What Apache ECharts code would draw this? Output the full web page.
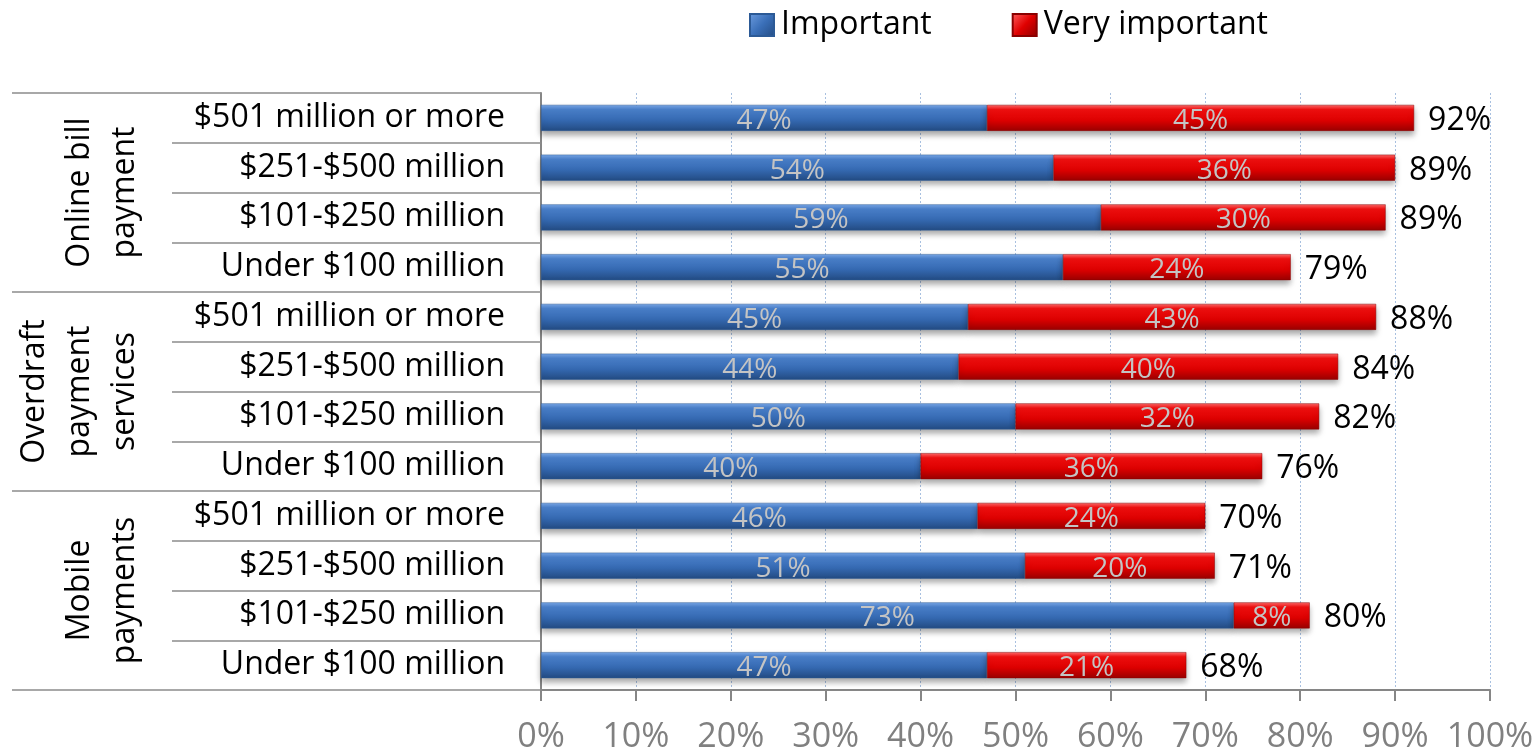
<!DOCTYPE html>
<html><head><meta charset="utf-8">
<script src="https://cdn.jsdelivr.net/npm/echarts@6/dist/echarts.min.js"></script>
<style>html,body{margin:0;padding:0;background:#fff}#c{width:1538px;height:755px}</style>
</head><body><div id="c"></div>
<script>
const groups = ['Online bill\npayment', 'Overdraft\npayment\nservices', 'Mobile\npayments'];
const categories = [
  '$501 million or more', '$251-$500 million', '$101-$250 million', 'Under $100 million',
  '$501 million or more', '$251-$500 million', '$101-$250 million', 'Under $100 million',
  '$501 million or more', '$251-$500 million', '$101-$250 million', 'Under $100 million'
];
const important     = [47, 54, 59, 55, 45, 44, 50, 40, 46, 51, 73, 47];
const veryImportant = [45, 36, 30, 24, 43, 40, 32, 36, 24, 20, 8, 21];
const totals        = [92, 89, 89, 79, 88, 84, 82, 76, 70, 71, 80, 68];
const xTicks = [0, 10, 20, 30, 40, 50, 60, 70, 80, 90, 100];

const FONT = 'Open Sans';
const chart = echarts.init(document.getElementById('c'), null, {renderer: 'canvas'});

const blueGrad = new echarts.graphic.LinearGradient(0, 0, 0, 1, [
  {offset: 0, color: '#7aa8e8'}, {offset: 0.18, color: '#4a80cb'},
  {offset: 0.6, color: '#3468b0'}, {offset: 1, color: '#234b82'}]);
const redGrad = new echarts.graphic.LinearGradient(0, 0, 0, 1, [
  {offset: 0, color: '#ff6a6a'}, {offset: 0.18, color: '#f01010'},
  {offset: 0.6, color: '#dc0000'}, {offset: 1, color: '#9a0000'}]);
const blueIcon = new echarts.graphic.LinearGradient(0, 0, 1, 1, [
  {offset: 0, color: '#6d9de0'}, {offset: 0.5, color: '#3a6fb8'}, {offset: 1, color: '#234b82'}]);
const redIcon = new echarts.graphic.LinearGradient(0, 0, 1, 1, [
  {offset: 0, color: '#ff6060'}, {offset: 0.5, color: '#e00000'}, {offset: 1, color: '#8a0000'}]);

chart.setOption({
  animation: false,
  textStyle: {fontFamily: FONT},
  legend: {
    top: 4, left: 744,
    data: [{name: 'Important', itemStyle: {color: blueIcon}}, {name: 'Very important', itemStyle: {color: redIcon}}],
    itemWidth: 24, itemHeight: 22, itemGap: 80,
    icon: 'rect',
    textStyle: {fontSize: 32, color: '#000', fontFamily: FONT, padding: [0, 0, 0, 2]}
  },
  grid: {left: 541, right: 48, top: 93, bottom: 65, containLabel: false},
  xAxis: {
    type: 'value', min: 0, max: 100, interval: 10,
    axisLine: {show: true, lineStyle: {color: '#868686', width: 2}},
    axisTick: {show: true, length: 11, lineStyle: {color: '#868686', width: 2}},
    axisLabel: {
      margin: 30, fontSize: 34, color: '#808080', fontFamily: FONT,
      formatter: v => xTicks.includes(v) ? v + '%' : ''
    },
    splitLine: {show: true, lineStyle: {color: '#a8c0e0', type: [2, 2], width: 1}}
  },
  yAxis: [
    {
      type: 'category', data: categories, inverse: true,
      axisLine: {show: true, lineStyle: {color: '#868686', width: 2}},
      axisTick: {show: true, length: 369, lineStyle: {color: '#8c8c8c', width: 1.5}},
      axisLabel: {margin: 36, fontSize: 32, color: '#000', fontFamily: FONT},
      splitLine: {show: false}
    },
    {
      type: 'category', data: groups, inverse: true, position: 'left',
      axisLine: {show: false},
      axisTick: {show: true, length: 529, lineStyle: {color: '#8c8c8c', width: 1.5}},
      axisLabel: {margin: 394, rotate: 90, fontSize: 32, lineHeight: 45, color: '#000', fontFamily: FONT, align: 'center'},
      splitLine: {show: false}
    }
  ],
  series: [
    {
      name: 'Important', type: 'bar', stack: 's', yAxisIndex: 0, barWidth: 26,
      data: important,
      itemStyle: {color: blueGrad, borderColor: '#2c5a96', borderWidth: 0.5,
        shadowColor: 'rgba(0,0,0,0.35)', shadowBlur: 6, shadowOffsetY: 4},
      label: {show: true, position: 'inside', formatter: p => p.value + '%',
        fontSize: 28, color: '#c4c4c4', fontFamily: FONT, offset: [0, 3]}
    },
    {
      name: 'Very important', type: 'bar', stack: 's', yAxisIndex: 0, barWidth: 26,
      data: veryImportant,
      itemStyle: {color: redGrad, borderColor: '#8a0000', borderWidth: 0.5,
        shadowColor: 'rgba(0,0,0,0.35)', shadowBlur: 6, shadowOffsetY: 4},
      label: {show: true, position: 'inside', formatter: p => p.value + '%',
        fontSize: 28, color: '#c4c4c4', fontFamily: FONT, offset: [0, 3]}
    },
    {
      name: 'Total', type: 'bar', stack: 's', yAxisIndex: 0, barWidth: 26,
      data: totals.map(() => 0),
      itemStyle: {color: 'transparent'},
      label: {show: true, position: 'right', distance: 14,
        formatter: p => totals[p.dataIndex] + '%',
        fontSize: 32, color: '#000', fontFamily: FONT, offset: [0, 3]}
    }
  ]
});
</script></body></html>
